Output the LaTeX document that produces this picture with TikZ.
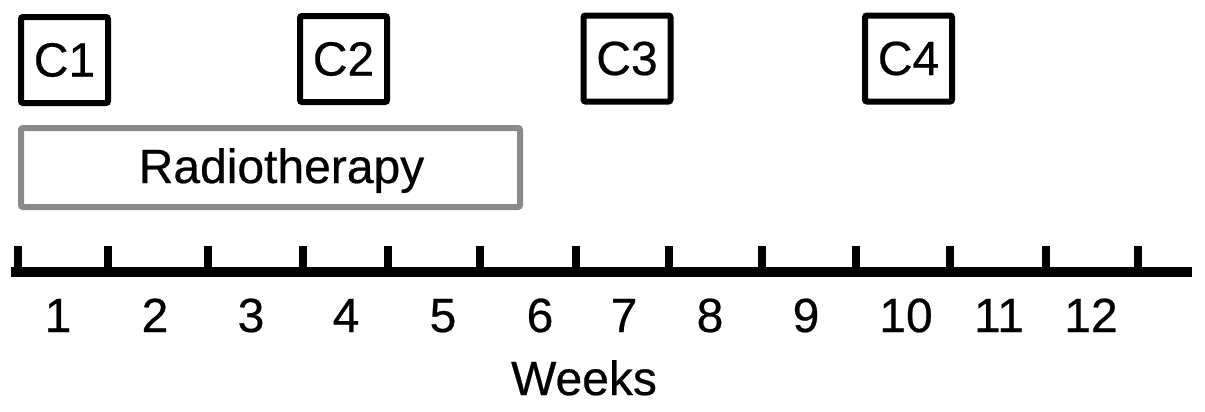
\documentclass[tikz,border=0pt]{standalone}
\usepackage{fontspec}
\setmainfont{Liberation Sans}
\newfontfamily\diagfont[FakeBold=0.5]{Liberation Sans}
\definecolor{rtgray}{HTML}{8A8A8A}
\begin{document}
\begin{tikzpicture}[x=0.5pt,y=-0.5pt,
  txt/.style={inner sep=0pt,font=\diagfont\fontsize{24pt}{28pt}\selectfont},
  cbox/.style={draw=black,line width=3pt,rounded corners=1pt,minimum width=43.5pt,minimum height=43pt,inner sep=0pt,font=\diagfont\fontsize{24pt}{28pt}\selectfont},
  rtbox/.style={draw=rtgray,line width=3pt,rounded corners=1pt,minimum width=249.5pt,minimum height=39.5pt,inner sep=0pt},
  axisline/.style={line width=5pt,line cap=rect},
  tickmark/.style={line width=4pt}
]
\useasboundingbox (0,0) rectangle (1205,412);
% chemo cycles
\node[cbox] (c1) at (64.5,60) {C1};
\node[cbox] (c2) at (343.5,59) {C2};
\node[cbox] (c3) at (627,58.5) {C3};
\node[cbox] (c4) at (908.5,58.5) {C4};
% radiotherapy
\node[rtbox] (rt) at (270.5,167.5) {};
\node[txt,anchor=base] (rtl) at (281.5,183) {Radiotherapy};
% axis
\coordinate (axL) at (16,272);
\coordinate (axR) at (1187,272);
\draw[axisline] (axL) -- (axR);
\foreach \i/\x in {0/18,1/108,2/208,3/303,4/388,5/480,6/576,7/669,8/762,9/856,10/950,11/1046,12/1138}{
  \coordinate (tt\i) at (\x,246);
  \coordinate (tb\i) at (\x,272);
  \draw[tickmark] (tt\i) -- (tb\i);
}
\foreach \n/\x in {1/58,2/155,3/251,4/346,5/443,6/540,7/624,8/710,9/806,10/906,11/999,12/1091}{
  \node[txt,anchor=base] (w\n) at (\x,332) {\n};
}
\node[txt,anchor=base] (weeks) at (584,395) {Weeks};
\end{tikzpicture}
\end{document}
